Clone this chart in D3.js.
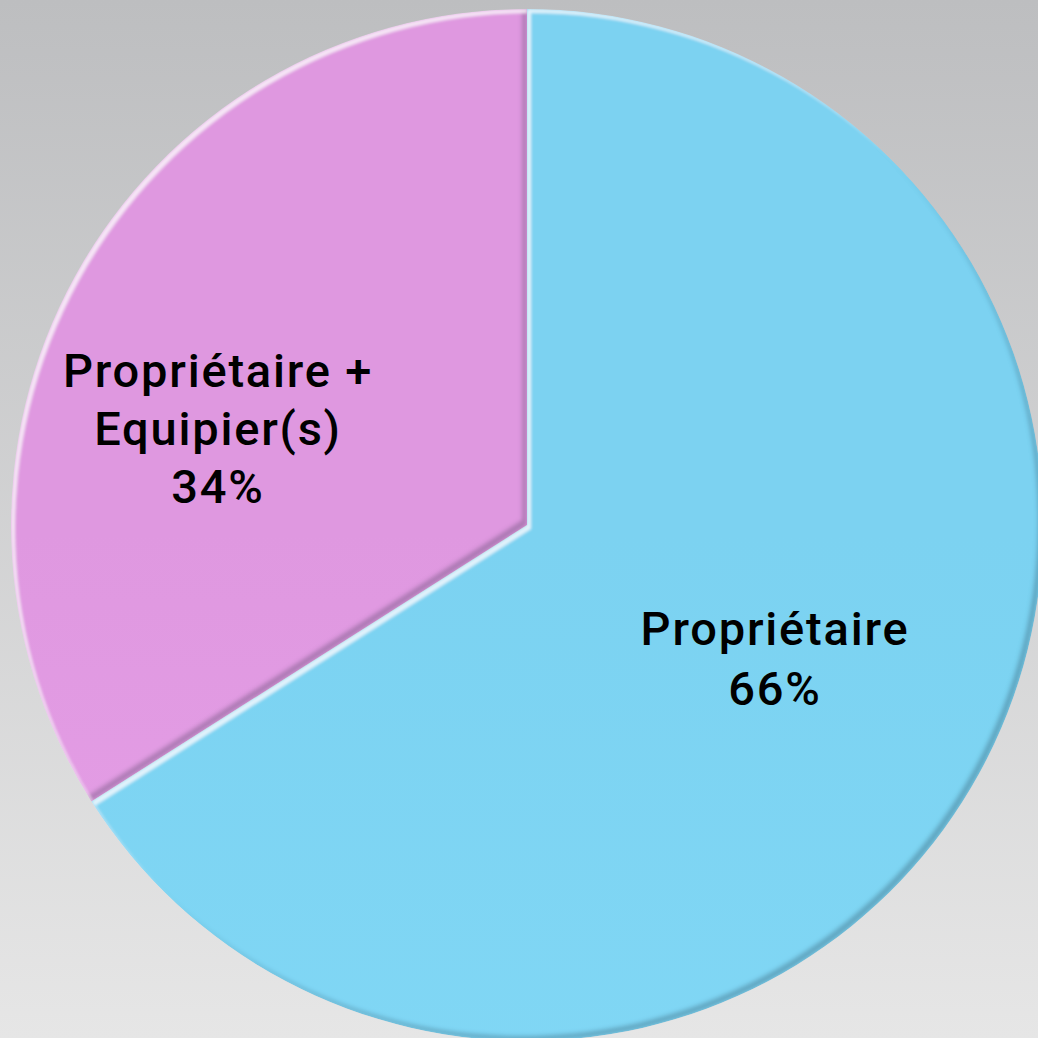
<!DOCTYPE html>
<html>
<head>
<meta charset="utf-8">
<script src="https://cdn.jsdelivr.net/npm/d3@7"></script>
<style>
  html, body { margin: 0; padding: 0; }
  body { width: 1038px; height: 1038px; overflow: hidden; }
</style>
</head>
<body>
<div id="chart"></div>
<script>
// data
const labels = ["Propriétaire", "Propriétaire + Equipier(s)"];
const values = [66, 34];
const topColors = ["#7bd2f1", "#df98e0"];
const bottomColors = ["#85dbf8", "#eda7ef"];
const labelLines = [["Propriétaire", "66%"], ["Propriétaire +", "Equipier(s)", "34%"]];

const width = 1038, height = 1038;
const cx = 527, cy = 525, radius = 516;

const svg = d3.select("#chart")
  .append("svg")
  .attr("width", width)
  .attr("height", height);

const defs = svg.append("defs");

// background gradient
const bg = defs.append("linearGradient")
  .attr("id", "bg").attr("x1", 0).attr("y1", 0).attr("x2", 0).attr("y2", 1);
bg.append("stop").attr("offset", "0%").attr("stop-color", "#bdbec0");
bg.append("stop").attr("offset", "100%").attr("stop-color", "#e6e6e6");

svg.append("rect")
  .attr("width", width).attr("height", height)
  .attr("fill", "url(#bg)");

// bevel: light strip on top-left facing edges, dark strip on bottom-right ones
const bevel = defs.append("filter")
  .attr("id", "bevel")
  .attr("x", "-5%").attr("y", "-5%").attr("width", "110%").attr("height", "110%");
bevel.append("feOffset").attr("in", "SourceAlpha").attr("dx", 4).attr("dy", 4).attr("result", "offA");
bevel.append("feComposite").attr("in", "SourceAlpha").attr("in2", "offA").attr("operator", "out").attr("result", "hiEdge");
bevel.append("feGaussianBlur").attr("in", "hiEdge").attr("stdDeviation", 1.6).attr("result", "hiBlur");
bevel.append("feFlood").attr("flood-color", "#ffffff").attr("flood-opacity", 0.7).attr("result", "white");
bevel.append("feComposite").attr("in", "white").attr("in2", "hiBlur").attr("operator", "in").attr("result", "hi");

bevel.append("feOffset").attr("in", "SourceAlpha").attr("dx", -5).attr("dy", -5).attr("result", "offB");
bevel.append("feComposite").attr("in", "SourceAlpha").attr("in2", "offB").attr("operator", "out").attr("result", "loEdge");
bevel.append("feGaussianBlur").attr("in", "loEdge").attr("stdDeviation", 2.2).attr("result", "loBlur");
bevel.append("feFlood").attr("flood-color", "#1c3a55").attr("flood-opacity", 0.45).attr("result", "dark");
bevel.append("feComposite").attr("in", "dark").attr("in2", "loBlur").attr("operator", "in").attr("result", "lo");

const merge = bevel.append("feMerge").attr("result", "m");
merge.append("feMergeNode").attr("in", "SourceGraphic");
merge.append("feMergeNode").attr("in", "lo");
merge.append("feMergeNode").attr("in", "hi");
bevel.append("feComposite").attr("in", "m").attr("in2", "SourceAlpha").attr("operator", "in");

// slight vertical shade per slice
topColors.forEach((c, i) => {
  const g = defs.append("linearGradient")
    .attr("id", "sl" + i).attr("gradientUnits", "userSpaceOnUse")
    .attr("x1", 0).attr("y1", cy - radius).attr("x2", 0).attr("y2", cy + radius);
  g.append("stop").attr("offset", "0%").attr("stop-color", c);
  g.append("stop").attr("offset", "100%").attr("stop-color", bottomColors[i]);
});

const pie = d3.pie().sort(null).value(d => d);
const arc = d3.arc().innerRadius(0).outerRadius(radius);
const arcs = pie(values);

const g = svg.append("g").attr("transform", `translate(${cx},${cy})`);

g.selectAll("path")
  .data(arcs)
  .join("path")
  .attr("d", arc)
  .attr("fill", (d, i) => `url(#sl${i})`)
  .attr("filter", "url(#bevel)");

// labels
const labelPos = [[248, 120], [-309, -138]];
const lineH = [60, 58];
const texts = g.selectAll("text.lbl")
  .data(arcs)
  .join("text")
  .attr("class", "lbl")
  .attr("text-anchor", "middle")
  .attr("font-family", "Roboto, 'Open Sans', sans-serif")
  .attr("font-weight", 500)
  .attr("font-size", 47)
  .attr("letter-spacing", 1.8)
  .attr("fill", "#000");

texts.each(function(d, i) {
  const lines = labelLines[i];
  const p = labelPos[i];
  d3.select(this).selectAll("tspan")
    .data(lines)
    .join("tspan")
    .attr("x", p[0])
    .attr("y", (t, j) => p[1] + j * lineH[i])
    .text(t => t);
});
</script>
</body>
</html>
